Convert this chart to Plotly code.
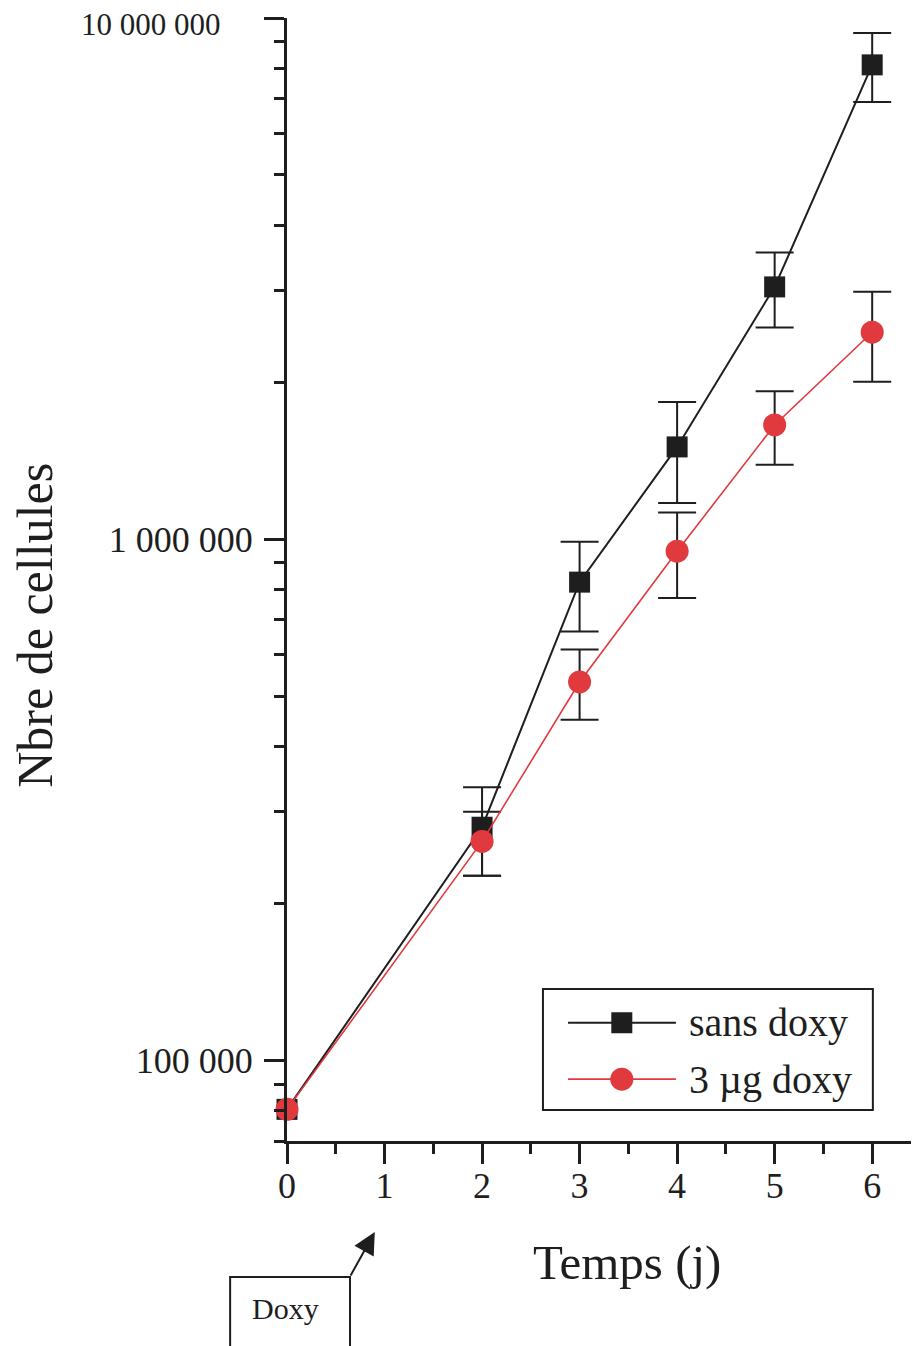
import plotly.graph_objects as go

# ---- data ----
days = [0, 2, 3, 4, 5, 6]
sans_doxy = [80500, 280000, 827000, 1503000, 3048000, 8130000]
sans_doxy_err = [0, 54000, 162000, 330000, 500000, 1230000]
doxy3 = [80500, 263000, 532000, 948000, 1656000, 2495000]
doxy3_err = [0, 37000, 82000, 177000, 267000, 490000]

series_names = ["sans doxy", "3 µg doxy"]
x_ticks = [0, 1, 2, 3, 4, 5, 6]
x_minor = [0.5, 1.5, 2.5, 3.5, 4.5, 5.5]
y_major = [1e5, 1e6]
y_major_text = ["100 000", "1 000 000"]
y_top_label = "10 000 000"
y_minor = [7e4, 8e4, 9e4] + [m * 1e5 for m in range(2, 10)] + [m * 1e6 for m in range(2, 10)]

FONT = "Liberation Serif, Times New Roman, serif"
INK = "#1e1e1e"
RED = "#e0393e"

fig = go.Figure()

series = [
    (sans_doxy, sans_doxy_err, INK, "square", 21, 2.0),
    (doxy3, doxy3_err, RED, "circle", 23, 1.6),
]
for k, (vals, errs, col, sym, size, lw) in enumerate(series):
    # error bars (day 0 has no measured spread, so it is left out)
    fig.add_trace(go.Scatter(
        x=days[1:], y=vals[1:], mode="markers",
        marker=dict(size=1, color="rgba(0,0,0,0)"),
        error_y=dict(type="data", array=errs[1:], visible=True,
                     color=INK, thickness=2, width=19),
        cliponaxis=False, showlegend=False, hoverinfo="skip"))
    # line + markers
    fig.add_trace(go.Scatter(
        x=days, y=vals, mode="lines+markers", name=series_names[k],
        line=dict(color=col, width=lw),
        marker=dict(symbol=sym, size=size, color=col),
        cliponaxis=False, showlegend=False))

# ---- custom legend in an inset axis ----
leg_rows = [0.72, 0.255]
leg_colors = [INK, RED]
leg_symbols = ["square", "circle"]
leg_sizes = [21, 23]
leg_widths = [2, 1.6]
for i in range(2):
    fig.add_trace(go.Scatter(
        x=[0.076, 0.403], y=[leg_rows[i]] * 2, mode="lines",
        line=dict(color=leg_colors[i], width=leg_widths[i]),
        xaxis="x2", yaxis="y2", showlegend=False, hoverinfo="skip"))
    fig.add_trace(go.Scatter(
        x=[0.239], y=[leg_rows[i]], mode="markers",
        marker=dict(symbol=leg_symbols[i], size=leg_sizes[i], color=leg_colors[i]),
        xaxis="x2", yaxis="y2", showlegend=False, hoverinfo="skip"))

annotations = []
for i in range(2):
    annotations.append(dict(
        x=0.436, y=leg_rows[i], xref="x2", yref="y2", text=series_names[i],
        showarrow=False, xanchor="left", yanchor="middle",
        font=dict(family=FONT, size=40, color=INK)))

# top y label
annotations.append(dict(
    x=-0.101, y=0.994, xref="paper", yref="paper", text=y_top_label,
    showarrow=False, xanchor="right", yanchor="middle",
    font=dict(family=FONT, size=31, color=INK)))

# axis titles
annotations.append(dict(
    x=-0.40, y=0.459, xref="paper", yref="paper", text="Nbre de cellules",
    textangle=-90, showarrow=False, xanchor="center", yanchor="middle",
    font=dict(family=FONT, size=50, color=INK)))
annotations.append(dict(
    x=0.538, y=-0.108, xref="paper", yref="paper", text="Temps (j)",
    showarrow=False, xanchor="center", yanchor="middle",
    font=dict(family=FONT, size=49, color=INK)))

# Doxy box text and arrow
annotations.append(dict(
    x=-0.003, y=-0.149, xref="paper", yref="paper", text="Doxy",
    showarrow=False, xanchor="center", yanchor="middle",
    font=dict(family=FONT, size=30, color=INK)))
annotations.append(dict(
    x=0.90, y=-0.081, xref="x", yref="paper", text="",
    showarrow=True, ax=-25, ay=45, axref="pixel", ayref="pixel",
    arrowhead=2, arrowsize=2.2, arrowwidth=2, arrowcolor=INK, standoff=0))

shapes = [
    dict(type="rect", xref="x2 domain", yref="y2 domain", x0=0, x1=1, y0=0, y1=1,
         line=dict(color=INK, width=2), fillcolor="rgba(0,0,0,0)"),
    dict(type="rect", xref="paper", yref="paper", x0=-0.090, x1=0.0997,
         y0=-0.25, y1=-0.1211, line=dict(color=INK, width=2),
         fillcolor="rgba(0,0,0,0)"),
]

# the page body adds an 8 px offset; margins compensate so the plot area
# lands at x 287..919, y 18..1141 on screen
fig.update_layout(
    width=919, height=1346,
    margin=dict(l=279, r=8, t=10, b=213, pad=0),
    paper_bgcolor="white", plot_bgcolor="white",
    font=dict(family=FONT, color=INK),
    xaxis=dict(
        range=[0, 6.48], showgrid=False, zeroline=False,
        showline=True, linecolor=INK, linewidth=3,
        tickmode="array", tickvals=x_ticks, ticktext=[str(v) for v in x_ticks],
        ticks="outside", ticklen=20, tickwidth=3, tickcolor=INK,
        ticklabelstandoff=-9,
        tickfont=dict(family=FONT, size=36, color=INK),
        minor=dict(tickmode="array", tickvals=x_minor, ticks="outside",
                   ticklen=10, tickwidth=3, tickcolor=INK),
    ),
    yaxis=dict(
        type="log", range=[4.8451, 7.0], showgrid=False, zeroline=False,
        showline=True, linecolor=INK, linewidth=3,
        tickmode="array", tickvals=y_major + [1e7], ticktext=y_major_text + [""],
        ticks="outside", ticklen=20, tickwidth=3, tickcolor=INK,
        ticklabelstandoff=4,
        tickfont=dict(family=FONT, size=36, color=INK),
        minor=dict(tickmode="array", tickvals=y_minor, ticks="outside",
                   ticklen=10, tickwidth=3, tickcolor=INK),
    ),
    xaxis2=dict(domain=[0.405, 0.927], anchor="y2", range=[0, 1], visible=False),
    yaxis2=dict(domain=[0.0276, 0.1354], anchor="x2", range=[0, 1], visible=False),
    annotations=annotations,
    shapes=shapes,
)

fig.write_html("out.html")
